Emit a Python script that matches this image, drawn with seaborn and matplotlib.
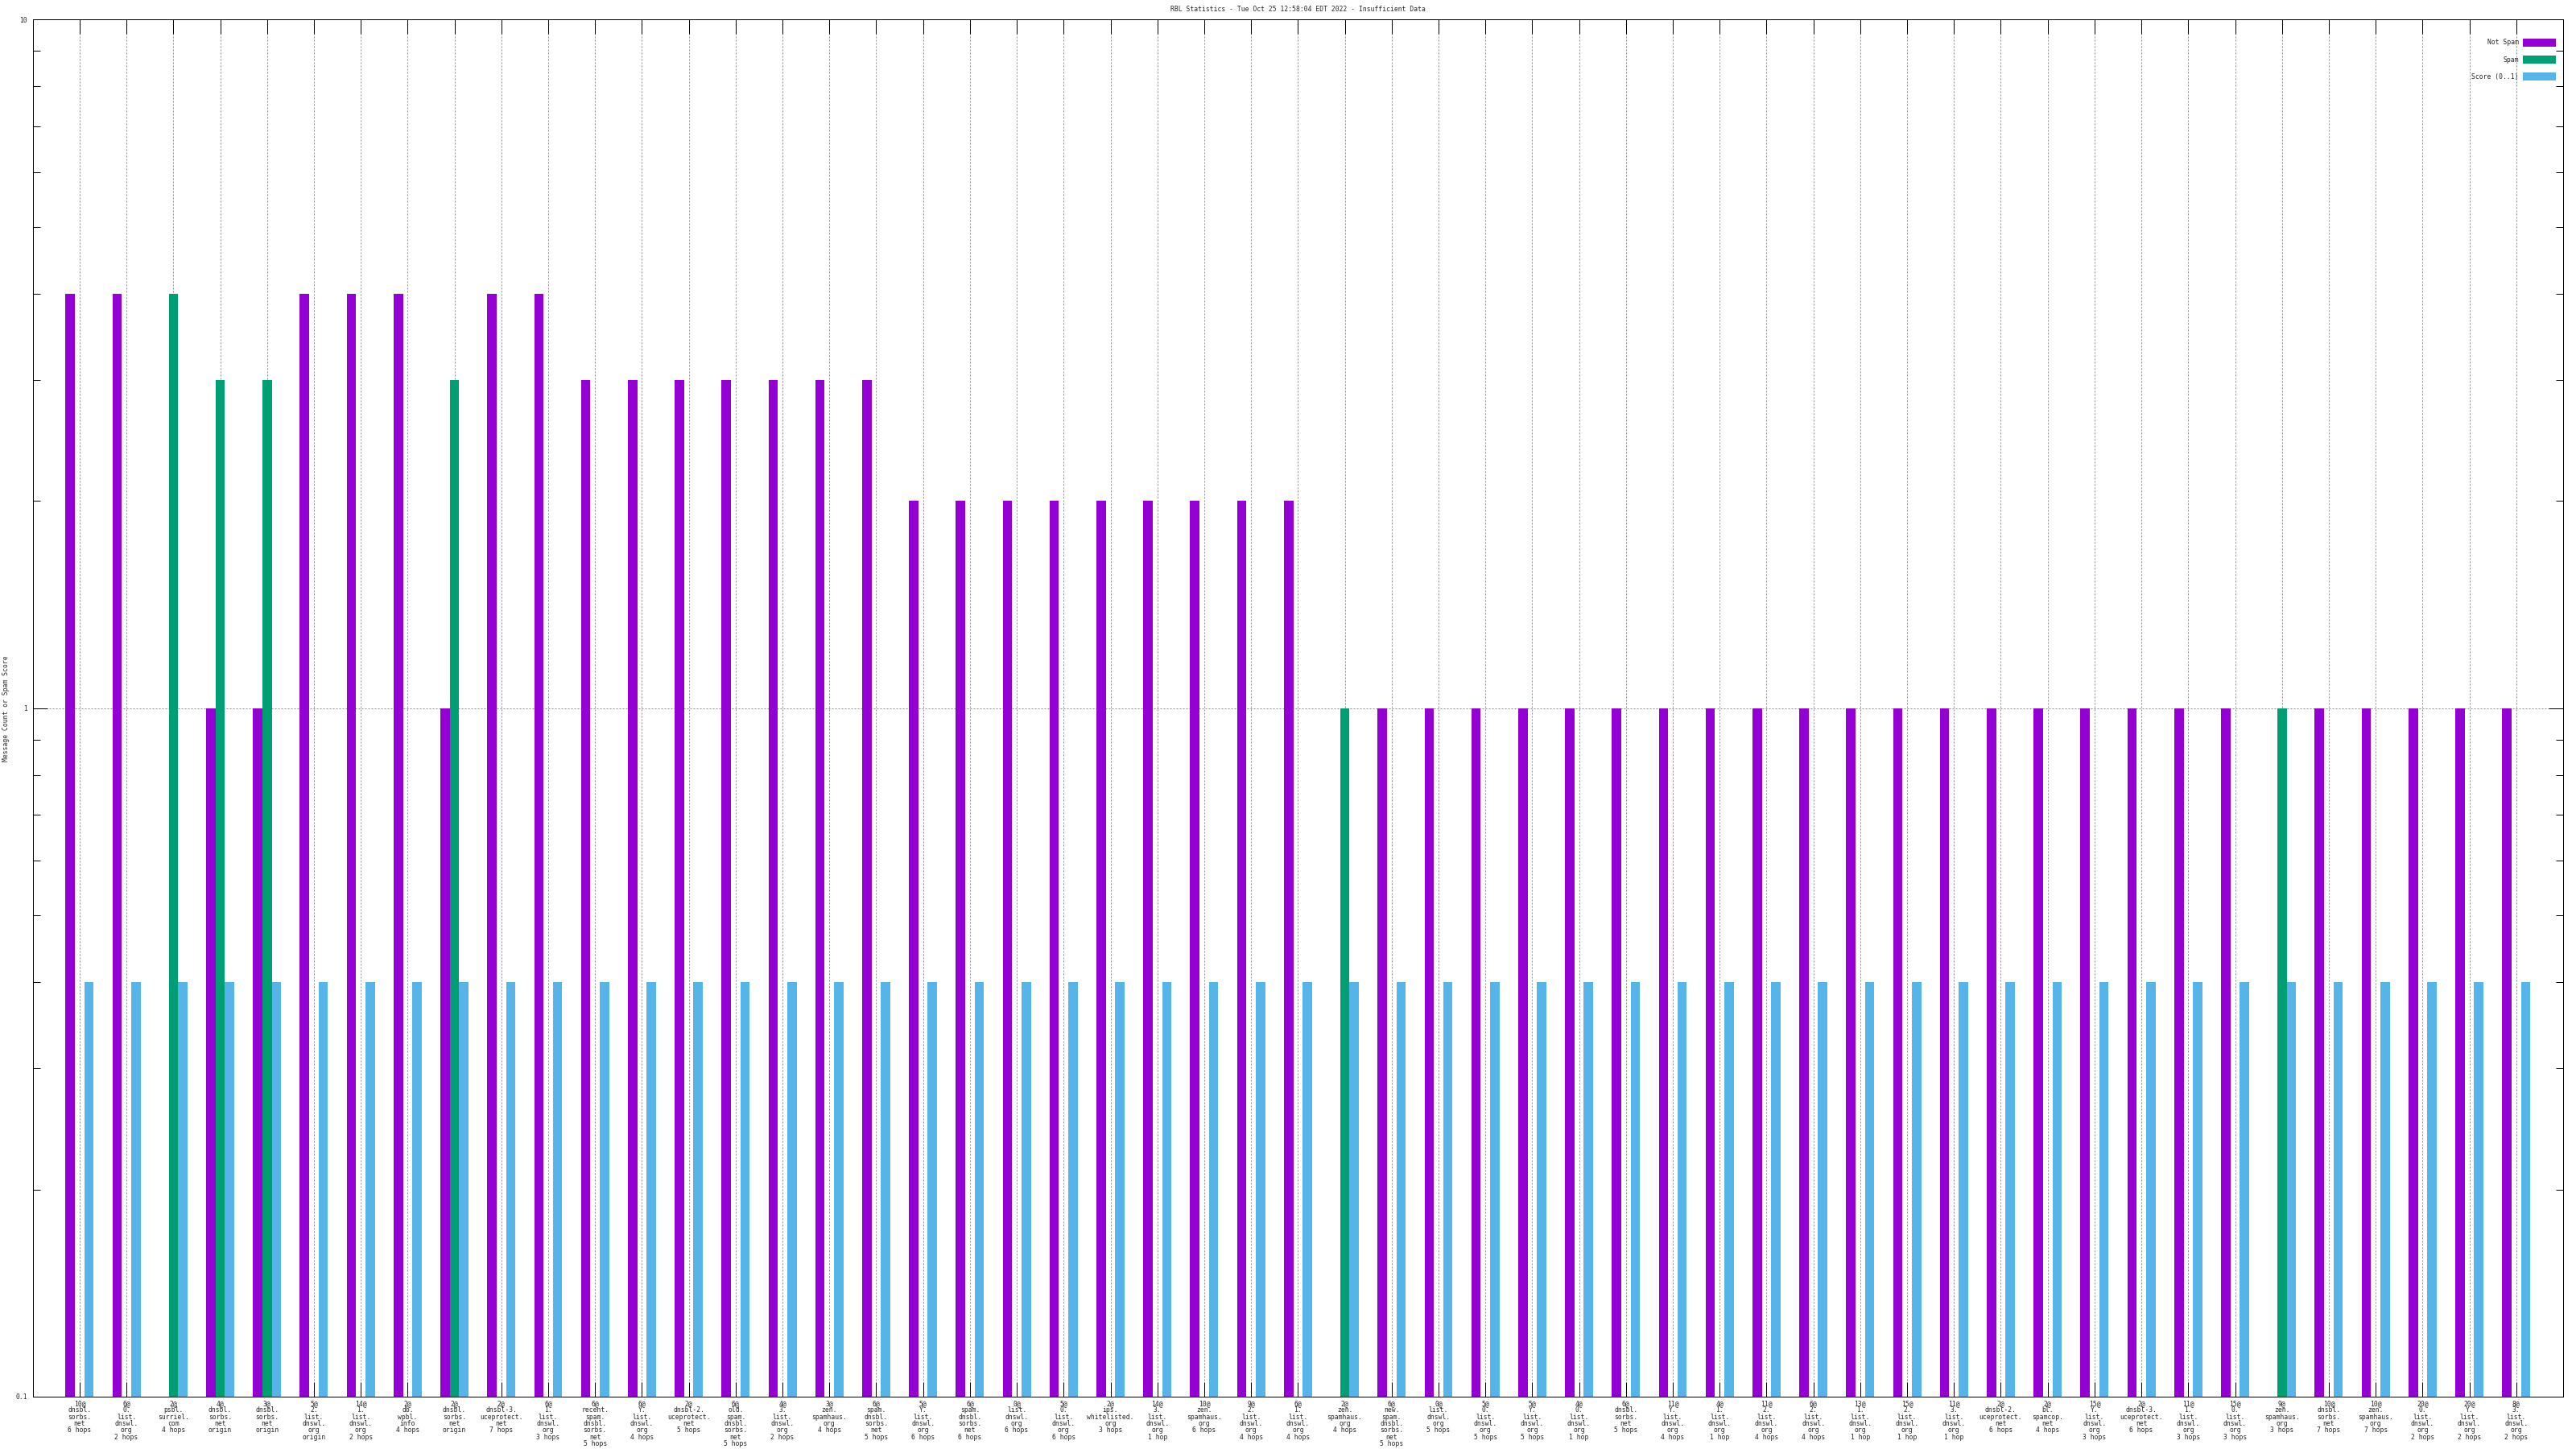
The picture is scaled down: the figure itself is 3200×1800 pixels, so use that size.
import matplotlib
matplotlib.use("Agg")
import matplotlib.pyplot as plt
import matplotlib.ticker as mticker
import seaborn as sns
import pandas as pd

# x tick labels, one per blacklist entry
labels = [
    "10@\ndnsbl.\nsorbs.\nnet\n6 hops",
    "6@\n0.\nlist.\ndnswl.\norg\n2 hops",
    "2@\npsbl.\nsurriel.\ncom\n4 hops",
    "4@\ndnsbl.\nsorbs.\nnet\norigin",
    "3@\ndnsbl.\nsorbs.\nnet\norigin",
    "5@\n2.\nlist.\ndnswl.\norg\norigin",
    "14@\n1.\nlist.\ndnswl.\norg\n2 hops",
    "2@\ndb.\nwpbl.\ninfo\n4 hops",
    "2@\ndnsbl.\nsorbs.\nnet\norigin",
    "2@\ndnsbl-3.\nuceprotect.\nnet\n7 hops",
    "6@\n1.\nlist.\ndnswl.\norg\n3 hops",
    "6@\nrecent.\nspam.\ndnsbl.\nsorbs.\nnet\n5 hops",
    "6@\nY.\nlist.\ndnswl.\norg\n4 hops",
    "2@\ndnsbl-2.\nuceprotect.\nnet\n5 hops",
    "6@\nold.\nspam.\ndnsbl.\nsorbs.\nnet\n5 hops",
    "4@\n3.\nlist.\ndnswl.\norg\n2 hops",
    "3@\nzen.\nspamhaus.\norg\n4 hops",
    "6@\nspam.\ndnsbl.\nsorbs.\nnet\n5 hops",
    "5@\nY.\nlist.\ndnswl.\norg\n6 hops",
    "6@\nspam.\ndnsbl.\nsorbs.\nnet\n6 hops",
    "0@\nlist.\ndnswl.\norg\n6 hops",
    "5@\n0.\nlist.\ndnswl.\norg\n6 hops",
    "2@\nips.\nwhitelisted.\norg\n3 hops",
    "14@\n3.\nlist.\ndnswl.\norg\n1 hop",
    "10@\nzen.\nspamhaus.\norg\n6 hops",
    "9@\n2.\nlist.\ndnswl.\norg\n4 hops",
    "6@\n1.\nlist.\ndnswl.\norg\n4 hops",
    "2@\nzen.\nspamhaus.\norg\n4 hops",
    "6@\nnew.\nspam.\ndnsbl.\nsorbs.\nnet\n5 hops",
    "0@\nlist.\ndnswl.\norg\n5 hops",
    "5@\n0.\nlist.\ndnswl.\norg\n5 hops",
    "5@\nY.\nlist.\ndnswl.\norg\n5 hops",
    "4@\n0.\nlist.\ndnswl.\norg\n1 hop",
    "6@\ndnsbl.\nsorbs.\nnet\n5 hops",
    "11@\nY.\nlist.\ndnswl.\norg\n4 hops",
    "4@\n1.\nlist.\ndnswl.\norg\n1 hop",
    "11@\n2.\nlist.\ndnswl.\norg\n4 hops",
    "6@\n2.\nlist.\ndnswl.\norg\n4 hops",
    "13@\n1.\nlist.\ndnswl.\norg\n1 hop",
    "15@\n2.\nlist.\ndnswl.\norg\n1 hop",
    "11@\n3.\nlist.\ndnswl.\norg\n1 hop",
    "2@\ndnsbl-2.\nuceprotect.\nnet\n6 hops",
    "2@\nbl.\nspamcop.\nnet\n4 hops",
    "15@\nY.\nlist.\ndnswl.\norg\n3 hops",
    "2@\ndnsbl-3.\nuceprotect.\nnet\n6 hops",
    "11@\n1.\nlist.\ndnswl.\norg\n3 hops",
    "15@\n0.\nlist.\ndnswl.\norg\n3 hops",
    "9@\nzen.\nspamhaus.\norg\n3 hops",
    "10@\ndnsbl.\nsorbs.\nnet\n7 hops",
    "10@\nzen.\nspamhaus.\norg\n7 hops",
    "20@\n0.\nlist.\ndnswl.\norg\n2 hops",
    "20@\nY.\nlist.\ndnswl.\norg\n2 hops",
    "8@\n3.\nlist.\ndnswl.\norg\n2 hops",
]

not_spam = [4, 4, 0, 1, 1, 4, 4, 4, 1, 4, 4,
            3, 3, 3, 3, 3, 3, 3,
            2, 2, 2, 2, 2, 2, 2, 2, 2,
            0,
            1, 1, 1, 1, 1, 1, 1, 1, 1, 1, 1, 1, 1, 1, 1, 1, 1, 1, 1,
            0,
            1, 1, 1, 1, 1]
spam = [0, 0, 4, 3, 3, 0, 0, 0, 3, 0, 0,
        0, 0, 0, 0, 0, 0, 0,
        0, 0, 0, 0, 0, 0, 0, 0, 0,
        1,
        0, 0, 0, 0, 0, 0, 0, 0, 0, 0, 0, 0, 0, 0, 0, 0, 0, 0, 0,
        1,
        0, 0, 0, 0, 0]
score = [0.4, 0.4, 0.4, 0.4, 0.4, 0.4, 0.4, 0.4, 0.4, 0.4, 0.4,
         0.4, 0.4, 0.4, 0.4, 0.4, 0.4, 0.4,
         0.4, 0.4, 0.4, 0.4, 0.4, 0.4, 0.4, 0.4, 0.4,
         0.4,
         0.4, 0.4, 0.4, 0.4, 0.4, 0.4, 0.4, 0.4, 0.4, 0.4, 0.4, 0.4, 0.4, 0.4,
         0.4, 0.4, 0.4, 0.4, 0.4,
         0.4,
         0.4, 0.4, 0.4, 0.4, 0.4]

series = ["Not Spam", "Spam", "Score (0..1)"]
colors = ["#9400D3", "#009E73", "#56B4E9"]

rows = []
for i in range(len(labels)):
    for name, vals in zip(series, [not_spam, spam, score]):
        if vals[i] > 0:
            rows.append({"idx": i, "series": name, "value": vals[i]})
df = pd.DataFrame(rows)

sns.set_style("white")
plt.rcParams["font.family"] = ["DejaVu Sans Mono", "DejaVu Sans"]
FS = 5.8

fig = plt.figure(figsize=(32, 18), dpi=100)
ax = fig.add_axes([40.7 / 3200, 1 - 1735 / 1800, (3184 - 40.7) / 3200, (1735 - 24.3) / 1800])

sns.barplot(data=df, x="idx", y="value", hue="series", hue_order=series,
            order=list(range(len(labels))), palette=colors, width=0.6,
            saturation=1, errorbar=None, linewidth=0, ax=ax, zorder=2)

ax.set_yscale("log")
ax.set_ylim(0.1, 10)
ax.set_xlim(-1, len(labels))

ax.yaxis.set_major_locator(mticker.FixedLocator([0.1, 1, 10]))
ax.yaxis.set_major_formatter(mticker.FixedFormatter(["0.1", "1", "10"]))
ax.yaxis.set_minor_locator(mticker.LogLocator(base=10, subs=[2, 3, 4, 5, 6, 7, 8, 9]))
ax.yaxis.set_minor_formatter(mticker.NullFormatter())

ax.set_xticks(range(len(labels)))
ax.set_xticklabels(labels)
for t in ax.get_xticklabels():
    t.set_linespacing(0.9)

ax.tick_params(axis="both", which="major", direction="in", length=13, width=0.72,
               top=True, right=True, bottom=True, left=True, labelsize=FS, color="black")
ax.tick_params(axis="both", which="minor", direction="in", length=6.5, width=0.72,
               top=True, right=True, bottom=True, left=True, color="black")
ax.tick_params(axis="x", pad=3)
ax.tick_params(axis="y", pad=5)

ax.set_axisbelow(True)
ax.grid(True, axis="x", which="major", color="#8c8c8c", linestyle=(0, (2, 2)), linewidth=0.72)
ax.grid(True, axis="y", which="major", color="#8c8c8c", linestyle=(0, (2, 2)), linewidth=0.72)
for s in ax.spines.values():
    s.set_linewidth(0.72)
    s.set_color("black")
    s.set_visible(True)

ax.set_xlabel("")
ax.set_ylabel("")

h, l = ax.get_legend_handles_labels()
ax.legend(h, l, loc="upper right", bbox_to_anchor=((3175 - 40.7) / 3143.3, (1735 - 48) / 1710.7),
          frameon=False, markerfirst=False, fontsize=FS, borderpad=0, borderaxespad=0,
          handlelength=5.1, handleheight=1.45, handletextpad=0.65, labelspacing=1.45)

fig.text(1612 / 3200, 1 - 11 / 1800, "RBL Statistics - Tue Oct 25 12:58:04 EDT 2022 - Insufficient Data",
         ha="center", va="center", fontsize=FS)
fig.text(8 / 3200, 1 - 880 / 1800, "Message Count or Spam Score", rotation=90,
         ha="center", va="center", fontsize=FS)

fig.savefig("out.png", dpi=100)
